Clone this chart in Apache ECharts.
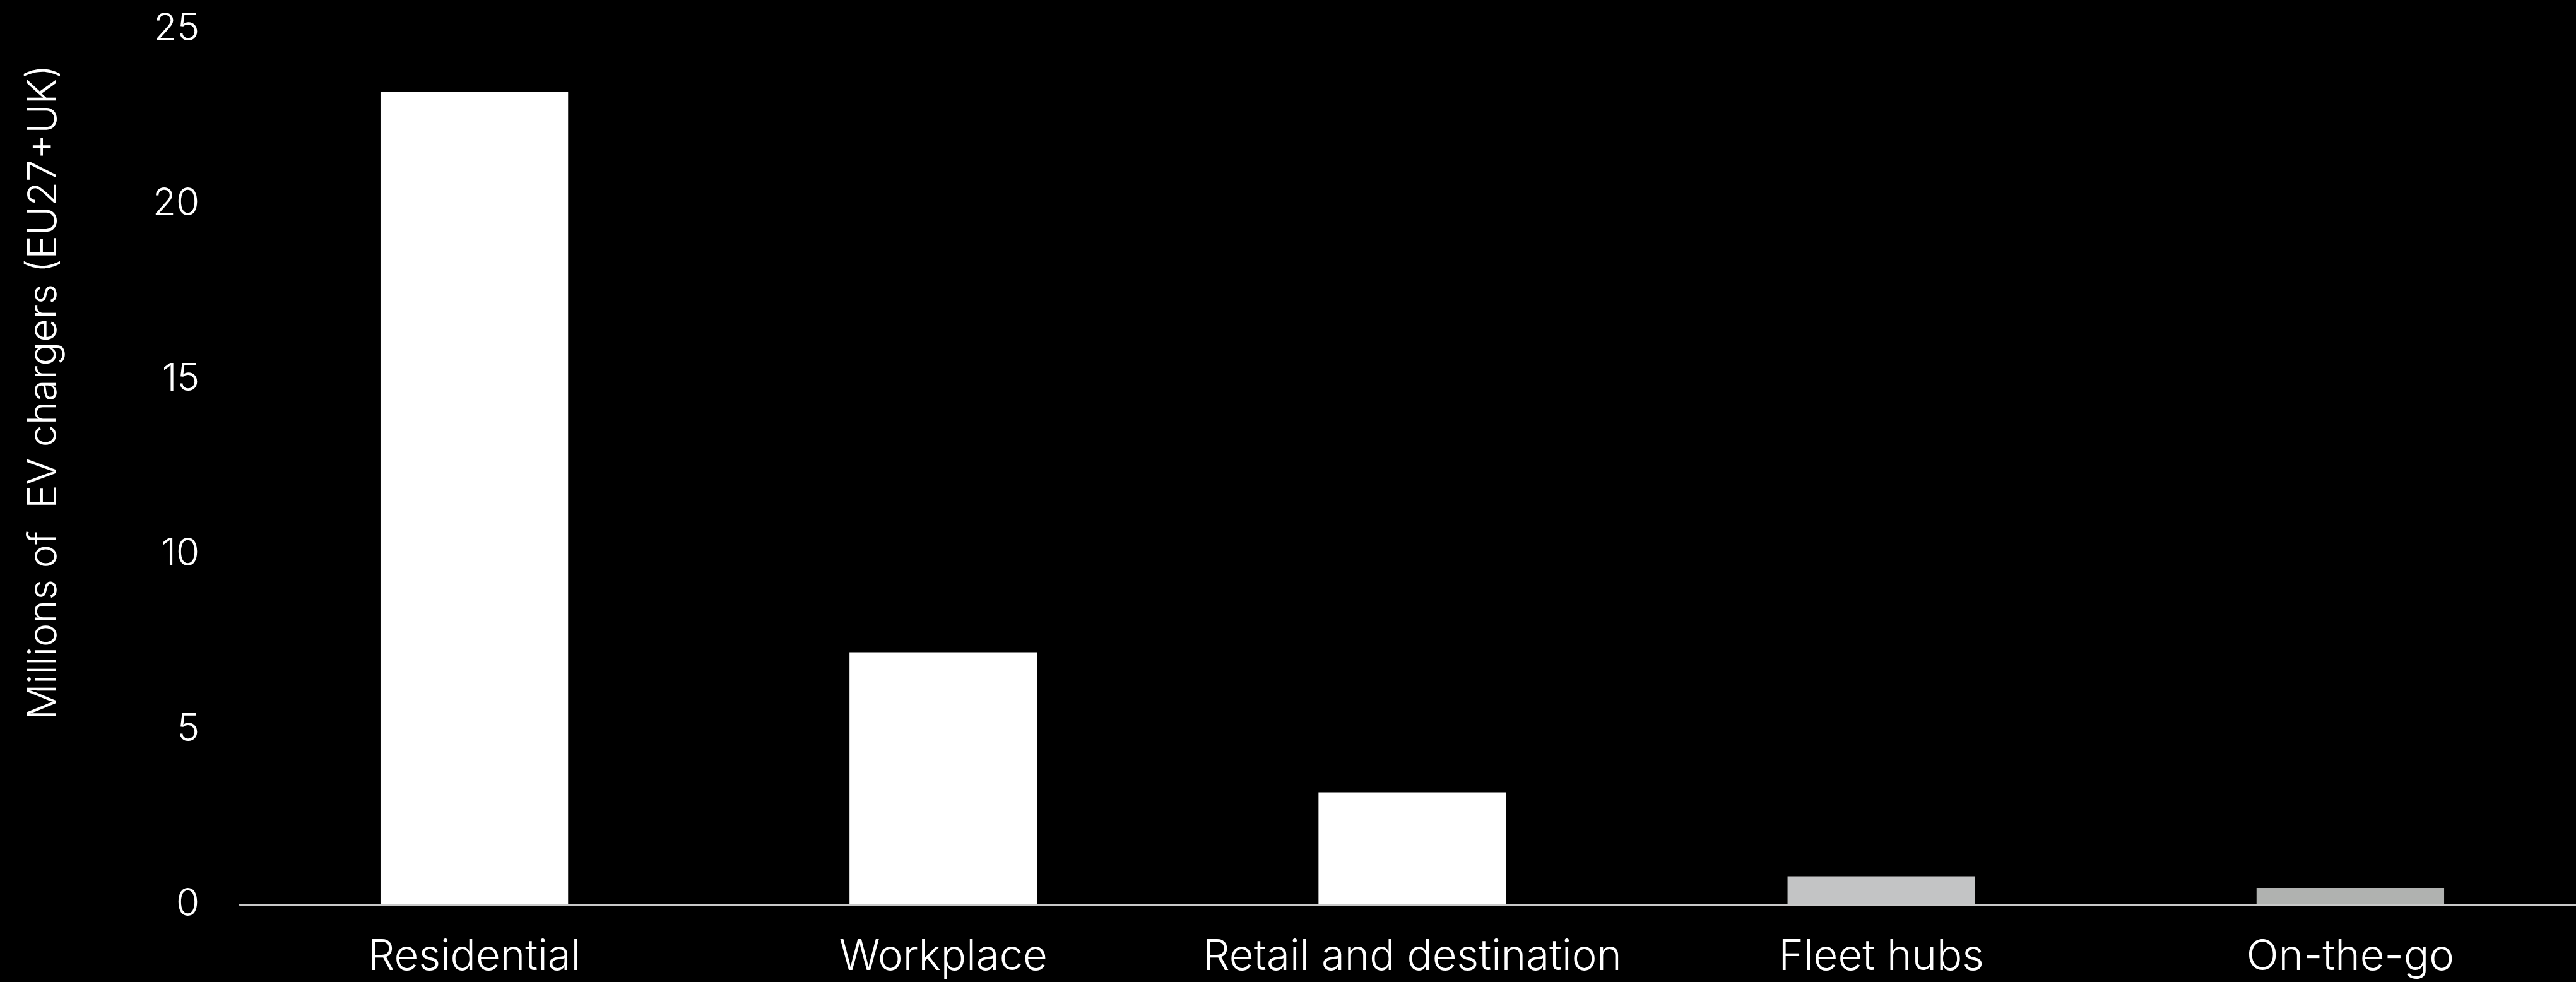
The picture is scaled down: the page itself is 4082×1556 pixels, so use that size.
<!DOCTYPE html>
<html>
<head>
<meta charset="utf-8">
<style>
  html, body { margin: 0; padding: 0; background: #000; overflow: hidden; width: 4082px; height: 1556px; }
  #chart { width: 4096px; height: 1556px; }
</style>
<script src="https://cdn.jsdelivr.net/npm/echarts@6/dist/echarts.min.js"></script>
</head>
<body>
<div id="chart"></div>
<script>
const categories = ['Residential', 'Workplace', 'Retail and destination', 'Fleet hubs', 'On-the-go'];
const chargers = [23.2, 7.2, 3.2, 0.8, 0.47];
const barColors = ['#ffffff', '#ffffff', '#ffffff', '#c3c4c5', '#b0b2b0'];
const yTicks = [0, 5, 10, 15, 20, 25];
const yAxisTitle = 'Millions of  EV chargers (EU27+UK)';

const chart = echarts.init(document.getElementById('chart'));
const font = 'Inter';
chart.setOption({
  backgroundColor: '#000000',
  animation: false,
  grid: { left: 380, right: 0, top: 46, bottom: 123, containLabel: false },
  xAxis: {
    type: 'category',
    data: categories,
    axisLine: { lineStyle: { color: '#c8c8c8', width: 3 } },
    axisTick: { show: false },
    axisLabel: { interval: 0, color: '#ffffff', fontFamily: font, fontWeight: 300, fontSize: 67, margin: 50 }
  },
  yAxis: {
    type: 'value',
    min: yTicks[0],
    max: yTicks[yTicks.length - 1],
    interval: 5,
    splitLine: { show: false },
    axisLine: { show: false },
    axisTick: { show: false },
    axisLabel: { color: '#ffffff', fontFamily: font, fontWeight: 300, fontSize: 60, margin: 64 },
    name: yAxisTitle,
    nameLocation: 'middle',
    nameRotate: 90,
    nameGap: 278,
    nameTextStyle: { color: '#ffffff', fontFamily: font, fontWeight: 300, fontSize: 63, padding: [0, 0, 0, 236] }
  },
  series: [{
    type: 'bar',
    barWidth: '40%',
    data: chargers.map((v, i) => ({ value: v, itemStyle: { color: barColors[i] } }))
  }]
});
</script>
</body>
</html>
